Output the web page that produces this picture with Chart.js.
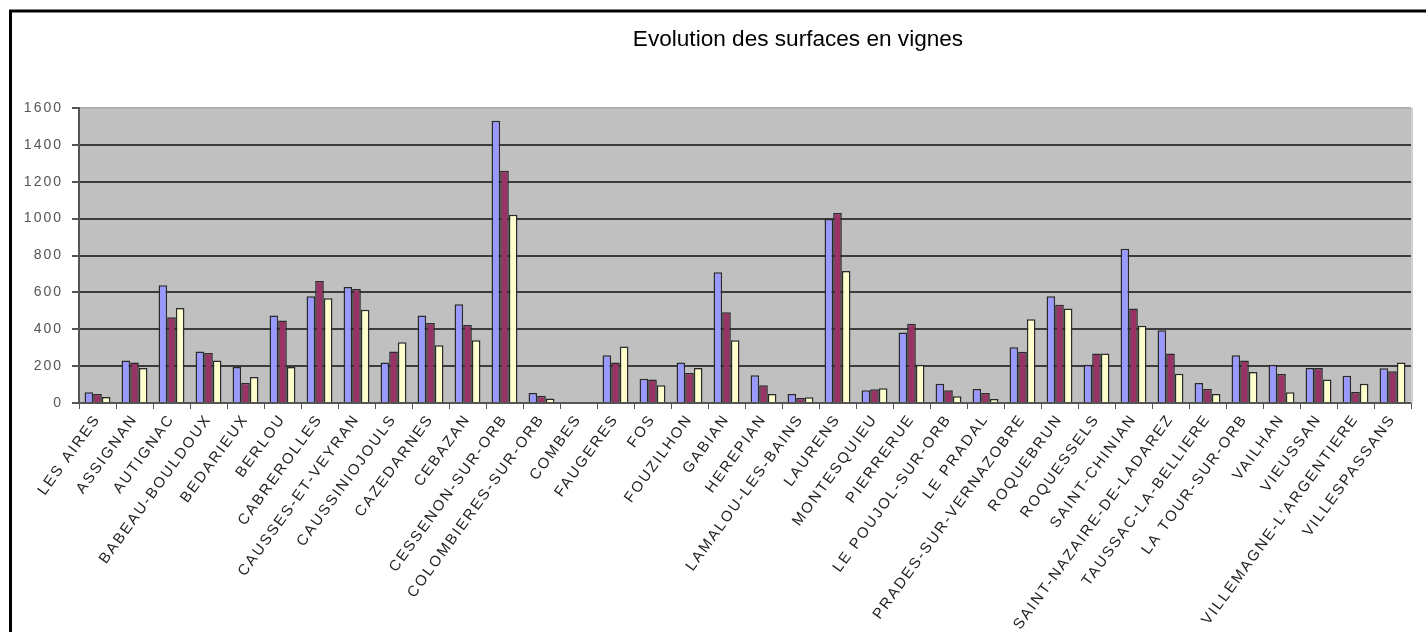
<!DOCTYPE html>
<html>
<head>
<meta charset="utf-8">
<script src="https://cdn.jsdelivr.net/npm/chart.js@4/dist/chart.umd.min.js"></script>
<style>
  html, body { margin: 0; padding: 0; background: #fff; }
  #wrap { width: 1426px; height: 632px; position: relative; }
</style>
</head>
<body>
<div id="wrap"><canvas id="c" width="1426" height="632"></canvas></div>
<script>
const chartTitle = 'Evolution des surfaces en vignes';

const categories = [
  'LES AIRES', 'ASSIGNAN', 'AUTIGNAC', 'BABEAU-BOULDOUX', 'BEDARIEUX', 'BERLOU',
  'CABREROLLES', 'CAUSSES-ET-VEYRAN', 'CAUSSINIOJOULS', 'CAZEDARNES', 'CEBAZAN',
  'CESSENON-SUR-ORB', 'COLOMBIERES-SUR-ORB', 'COMBES', 'FAUGERES', 'FOS', 'FOUZILHON',
  'GABIAN', 'HEREPIAN', 'LAMALOU-LES-BAINS', 'LAURENS', 'MONTESQUIEU', 'PIERRERUE',
  'LE POUJOL-SUR-ORB', 'LE PRADAL', 'PRADES-SUR-VERNAZOBRE', 'ROQUEBRUN', 'ROQUESSELS',
  'SAINT-CHINIAN', 'SAINT-NAZAIRE-DE-LADAREZ', 'TAUSSAC-LA-BELLIERE', 'LA TOUR-SUR-ORB',
  'VAILHAN', 'VIEUSSAN', "VILLEMAGNE-L'ARGENTIERE", 'VILLESPASSANS'
];

const seriesNames = ['Série1', 'Série2', 'Série3'];

const series1 = [58, 231, 638, 280, 195, 475, 579, 629, 220, 475, 535, 1531, 54, 0, 259, 132, 220, 709,
  150, 49, 998, 69, 383, 105, 76, 302, 579, 208, 837, 394, 108, 259, 208, 190, 148, 188];
const series2 = [49, 220, 465, 271, 108, 448, 662, 618, 280, 434, 423, 1260, 40, 0, 220, 127, 163, 492,
  96, 27, 1031, 74, 430, 69, 54, 278, 533, 268, 512, 268, 76, 231, 157, 190, 60, 172];
const series3 = [33, 190, 515, 231, 141, 195, 568, 506, 329, 313, 340, 1021, 24, 0, 307, 96, 190, 340,
  49, 31, 716, 80, 208, 36, 22, 454, 512, 268, 419, 159, 49, 168, 58, 127, 105, 220];

const yTicks = [0, 200, 400, 600, 800, 1000, 1200, 1400, 1600];

const colors = ['#9999ff', '#993366', '#ffffcc'];

const plotBg = {
  id: 'plotBg',
  beforeDraw(chart) {
    const { ctx, chartArea: a } = chart;
    ctx.save();
    ctx.fillStyle = '#c0c0c0';
    ctx.fillRect(a.left, a.top, a.right - a.left, a.bottom - a.top);
    ctx.restore();
    ctx.letterSpacing = '2px';
  }
};

const frameAndTitle = {
  id: 'frameAndTitle',
  afterDraw(chart) {
    const { ctx, chartArea: a } = chart;
    ctx.save();
    ctx.letterSpacing = '0px';
    ctx.strokeStyle = '#d0d0d0';
    ctx.lineWidth = 2;
    ctx.beginPath();
    ctx.moveTo(a.right + 1, a.top);
    ctx.lineTo(a.right + 1, a.bottom);
    ctx.stroke();
    ctx.strokeStyle = '#000';
    ctx.lineWidth = 3;
    ctx.beginPath();
    ctx.moveTo(10.5, 632);
    ctx.lineTo(10.5, 11);
    ctx.lineTo(1426, 11);
    ctx.stroke();
    ctx.fillStyle = '#000';
    ctx.font = '22.6px "Liberation Sans", Arial, sans-serif';
    ctx.textAlign = 'center';
    ctx.textBaseline = 'middle';
    ctx.fillText(chartTitle, 798, 40);
    ctx.restore();
  }
};

new Chart(document.getElementById('c'), {
  type: 'bar',
  data: {
    labels: categories,
    datasets: [series1, series2, series3].map((d, i) => ({
      label: seriesNames[i],
      data: d,
      backgroundColor: colors[i],
      borderColor: '#2a2a2a',
      borderWidth: 1.5,
      categoryPercentage: 0.7,
      barPercentage: 1.0
    }))
  },
  options: {
    responsive: false,
    animation: false,
    layout: { padding: { top: 108, right: 15, left: 0, bottom: 0 } },
    plugins: {
      legend: { display: false },
      title: { display: false },
      tooltip: { enabled: false }
    },
    scales: {
      x: {
        afterFit(scale) { scale.height = 229; },
        grid: { drawOnChartArea: false, drawTicks: true, tickLength: 6, color: '#555', offset: true },
        border: { color: '#555', width: 2 },
        ticks: {
          autoSkip: false,
          maxRotation: 54,
          minRotation: 54,
          padding: 2,
          color: '#222',
          font: { family: '"Liberation Sans", Arial, sans-serif', size: 15 }
        }
      },
      y: {
        min: 0,
        max: 1600,
        afterFit(scale) { scale.width = 79; },
        afterBuildTicks(scale) { scale.ticks = yTicks.map(v => ({ value: v })); },
        grid: {
          color: (c) => (c.tick && c.tick.value === 1600) ? '#b0b0b0' : '#3c3c3c',
          lineWidth: 2,
          tickLength: 7,
          tickColor: '#555'
        },
        border: { color: '#555', width: 2 },
        ticks: {
          padding: 9,
          color: '#555',
          callback: (v) => String(v),
          font: { family: '"Liberation Sans", Arial, sans-serif', size: 14 }
        }
      }
    }
  },
  plugins: [plotBg, frameAndTitle]
});
</script>
</body>
</html>
